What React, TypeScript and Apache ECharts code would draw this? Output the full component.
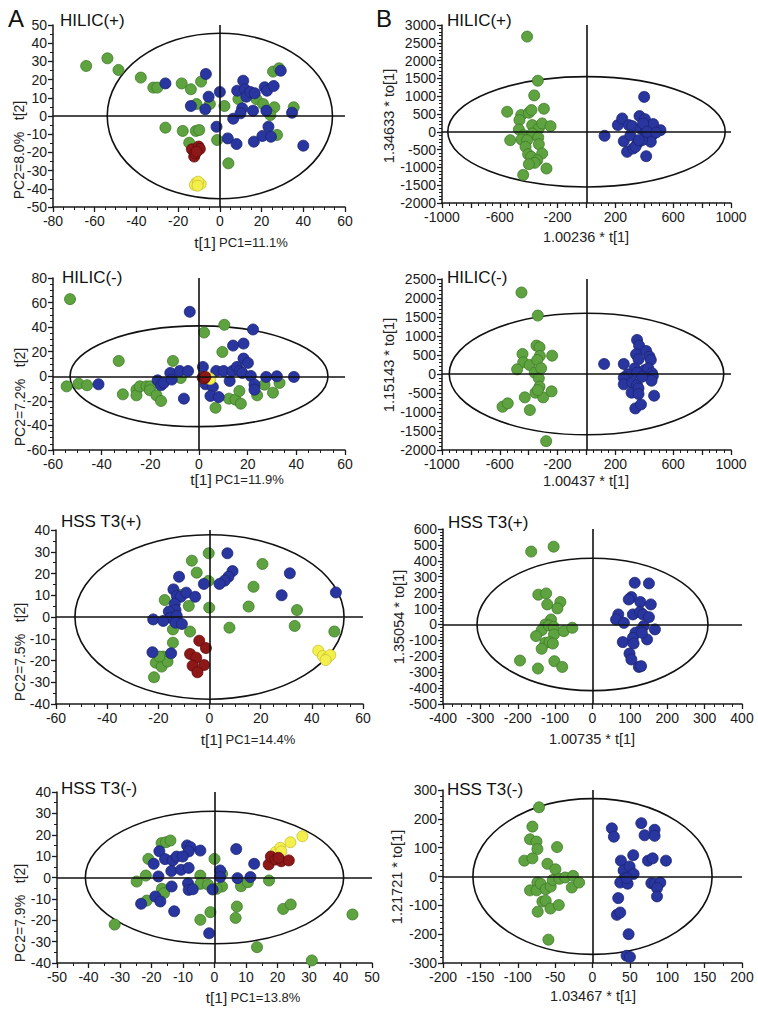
import React, { useEffect, useRef } from "react";
import * as echarts from "echarts";

const FONT = '"Liberation Sans", Arial, Helvetica, sans-serif';

// ---------- data ----------
const P1_GREEN = [[-64.1,27.5],[-53.9,31.7],[-48.6,25.3],[-37.9,21.1],[-31.9,15.6],[-30,15.6],[-18.3,17.9],[-13.9,14.7],[-9,18.9],[-11.2,6.6],[-4.8,6.6],[2.2,5.5],[-26.1,-6.4],[-17.8,-8.2],[-11.5,-8.2],[-9.9,-7.7],[-14.7,-14.7],[-1.3,-13.2],[4.1,-26],[8.9,9.3],[17.5,9.3],[20.7,6.6],[26.1,4.8],[24.2,0.5],[35.4,4.8],[25.5,24.4],[28.4,26.2],[27.4,-10.4]];
const P1_BLUE = [[-26.1,17.9],[-6.7,23.1],[-13.9,5.5],[-5.4,10.6],[-7,3.7],[0,13.2],[-1.6,-5.9],[3.8,-12.3],[6.4,-1.5],[8,-15.4],[8.3,13.9],[11.2,19.4],[12,14.7],[12.7,10.6],[14.6,13.2],[16.7,12.5],[10.7,4.2],[9.9,1.5],[15.9,2.9],[16.3,-14.1],[21.5,15.8],[22.6,13.9],[25.8,16.5],[22.3,2.9],[23.3,-5.9],[20.4,-11],[24.5,-11.4],[29.2,24.9],[34.6,1.8],[40,-16.3]];
const P1_RED = [[-13.4,-18.3],[-12.3,-22.3],[-10.2,-16.8],[-9.6,-18.1],[-11.8,-20.5],[-11.2,-19.6]];
const P1_YELLOW = [[-11.2,-36.6],[-9.2,-37.4],[-12,-37.9],[-10.4,-36.1],[-10.7,-38.3]];

const P2_GREEN = [[-411,2674],[-337,1435],[-362,1023],[-549,563],[-452,469],[-399,535],[-381,610],[-295,647],[-464,328],[-376,188],[-330,94],[-307,235],[-249,159],[-468,66],[-528,-235],[-434,-94],[-376,-47],[-334,-159],[-450,-216],[-411,-235],[-330,-347],[-422,-422],[-404,-629],[-383,-704],[-307,-610],[-341,-797],[-358,-872],[-399,-910],[-277,-1032],[-438,-1210]];
const P2_BLUE = [[125,-113],[217,188],[247,375],[293,188],[316,160],[367,441],[399,981],[404,356],[461,216],[512,47],[258,-263],[281,-563],[323,-469],[351,-328],[304,-94],[374,94],[408,0],[431,-141],[454,-94],[445,-281],[385,-234],[413,-685],[339,-422],[362,-234],[392,235],[419,0],[482,-19]];

const P3_GREEN = [[-53,62.8],[-33,12.5],[-54.4,-8.2],[-49.5,-6],[-46,-7.3],[-31.3,-14.7],[-25.7,-10.9],[-25.7,-15.5],[-24.3,-8.2],[-21.6,-8.2],[-20,-8.2],[-20.2,-11.4],[-17.5,-15.5],[-15.6,-20.1],[-10.7,12.5],[-7.5,-1.4],[2.1,35.6],[10.4,41.9],[9.6,19.8],[6.8,-25.6],[12.3,-18.2],[15,-19],[16.6,-12],[17.2,-22.3],[23.9,-15.5],[26.9,-6.8],[30.4,-13.3],[33.1,-5.4]];
const P3_BLUE = [[-3.8,52.5],[-41.3,-6.5],[-17,-3.3],[-15.6,-7.3],[-14.5,-5.4],[-11.8,2.7],[-11.2,-2.7],[-7.9,4.3],[-4.5,4.3],[-6.2,-18.2],[1.6,7.6],[2.7,-6.5],[5.7,-8.7],[4.7,-16],[8.1,-16.9],[7.1,4.3],[10.1,4.3],[12.6,-3.8],[13.7,4.3],[14,25],[15.6,7.6],[16.7,4.3],[17.8,2.7],[18.3,26.6],[18.3,14.4],[20.1,10.9],[21.3,0.3],[22.8,-6.8],[22.8,-10.9],[22.2,38.1],[27.6,-0.5],[32,0],[39,-0.5]];
const P3_RED = [[1.5,-1],[2.2,-1.8],[2.6,-0.6]];
const P3_YELLOW = [[4.2,-1.6],[3.6,-0.9],[4.6,-2.2]];

const P4_GREEN = [[-450,2144],[-337,1538],[-443,527],[-438,308],[-480,123],[-394,237],[-358,35],[-346,747],[-325,703],[-323,475],[-341,369],[-314,149],[-330,-114],[-325,-334],[-353,-492],[-300,-615],[-242,-457],[-427,-615],[-581,-861],[-545,-773],[-392,-949],[-279,-1767],[-238,483],[-337,-422]];
const P4_BLUE = [[122,264],[258,264],[350,897],[364,747],[343,519],[360,387],[413,606],[436,457],[445,369],[334,149],[286,-9],[258,-97],[258,-272],[316,-229],[312,-492],[350,-290],[360,-378],[360,-527],[338,-905],[377,-800],[404,105],[427,149],[454,18],[459,-53],[450,-176],[468,-571],[350,35],[385,-70]];

const P5_GREEN = [[-0.3,29.3],[-6.9,25.9],[-5,20.4],[-0.4,16.6],[20.7,24.4],[17.2,13.9],[15.3,4.8],[34.2,3.2],[33.3,-4.1],[48.8,-6.7],[7.8,-4.9],[-0.1,4.3],[-8.1,5.1],[-7.6,-6.7],[-17.5,7.8],[-14.3,-5.7],[-14.3,-11.8],[-21.7,-27.7],[-21,-21],[-18.1,-18.2],[-18.7,-22.8],[-16.4,-20.5],[-19.6,-18.2],[-11.5,10.1]];
const P5_BLUE = [[7,29.3],[9,21.1],[7.4,18.5],[5.9,16.7],[3.9,15.2],[-2.2,15.2],[-11.9,18.5],[-14.1,12.7],[-12.8,9.7],[-11.2,9.3],[-9.1,11.2],[-5.6,9.3],[-13.6,6],[-13.3,3.2],[-15.9,2.5],[-15.3,-0.3],[-12.8,0.5],[-13.3,-2.6],[-10.8,-3.2],[-22,-1.1],[-18.1,-1.8],[-22.3,-16.2],[-15,-16.7],[28.2,10],[31.4,20.1],[49.4,11.3]];
const P5_RED = [[-4,-10.9],[-1.4,-14.3],[-7.6,-17],[-5.2,-18.7],[-6.6,-22.4],[-2.1,-22.1],[-4.7,-25.4]];
const P5_YELLOW = [[42.5,-15.5],[44.3,-17.9],[45.8,-19],[47.2,-17.5],[45.4,-19.8]];

const P6_GREEN = [[-164,458],[-104,489],[-145,187],[-124,195],[-121,126],[-86,141],[-94,101],[-111,31],[-126,0],[-136,-36],[-117,-6],[-104,-15],[-103,-63],[-77,-42],[-54,-21],[-151,-73],[-126,-115],[-115,-111],[-106,-120],[-136,-153],[-194,-227],[-146,-277],[-102,-231],[-81,-267]];
const P6_BLUE = [[113,262],[151,258],[104,172],[97,157],[128,141],[156,126],[69,63],[63,31],[84,10],[108,63],[127,78],[135,63],[151,46],[137,-10],[167,-31],[127,-42],[115,-52],[108,-84],[110,-120],[81,-111],[146,-94],[99,-183],[104,-220],[124,-267],[130,-262],[132,-52]];

const P7_GREEN = [[-16.8,16.1],[-15.4,16.5],[-14,17.3],[-21,8.7],[-21.8,0.9],[-24.7,-1.9],[-21.5,-10.8],[-16.7,-5.3],[-16,-7.3],[-31.7,-22],[-4.5,0.9],[-4.5,-3],[-2.1,-3.3],[0,8.7],[-1.3,-16.2],[-4.5,-19.8],[2.4,1.7],[2.4,-4.2],[0.7,-5.3],[8.4,-4.1],[10.6,-2.2],[7.1,-13.6],[6.7,-18.9],[17.3,-1.4],[21.8,-14.7],[24.2,-12.6],[13.5,-32.6],[30.9,-38.8],[43.8,-17.3]];
const P7_BLUE = [[-17.5,12.3],[-19.3,6.4],[-15.7,8.6],[-13.3,8],[-12,9.8],[-8.7,15],[-7.6,14.2],[-8.2,12.2],[-10.1,9.8],[-4.5,12.6],[-13.7,3],[-10.6,3.6],[-8.2,4.5],[-17.8,0.5],[-8.4,-2.7],[-8.2,-5.8],[-6.9,-5.5],[-13.6,-4.2],[-18.8,-8.9],[-17.2,-11.2],[-23.3,-12.3],[-12.8,-15.8],[-1.7,-26.1],[-0.6,-5.6],[1.8,3.3],[1.8,0.2],[6.9,13.3],[7.3,-0.3],[11.4,0.2],[12.6,6.4]];
const P7_RED = [[17.2,6.1],[17.9,9.8],[19.4,8.4],[21.2,7.6],[23.6,8],[20.3,9.2]];
const P7_YELLOW = [[19.4,11.9],[20.9,13.9],[21.2,12.2],[24.1,16.5],[27.9,19.3]];

const P8_GREEN = [[-71.5,240],[-80.4,173],[-83.6,129],[-75,121],[-73.7,95],[-47.4,102],[-91.2,55],[-80.4,63],[-60.3,44],[-49.6,25],[-73.7,-21],[-83.6,-48],[-74.7,-48],[-69.3,-25],[-62.6,-44],[-67,-87],[-62.6,-84],[-73.3,-122],[-56.3,-111],[-45.1,-99],[-59,-219],[-55.9,-35],[-53.2,-12],[-44.2,-8],[-36.6,-3.5],[-25.9,2.3],[-27.7,-38],[-17.9,-21]];
const P8_BLUE = [[25.9,167],[28.6,138],[65.3,185],[69.7,143],[83.1,162],[83.1,141],[38,55],[54.5,74],[74.2,55],[80.5,63],[98.3,55],[41.6,21],[49.6,35],[55,9],[42.5,-7],[37.1,-21],[47,-25],[34.4,-75],[32.6,-133],[37.1,-125],[48.3,-200],[45.6,-275],[50.1,-279],[78.7,-23],[83.1,-25],[90.7,-21],[86.3,-40],[86.3,-69],[45.6,-6]];

// Hotelling ellipse radii [rx, ry] per panel
const ELLIPSES = [[54,45.5],[960,1550],[53,41],[950,1600],[52.6,37.8],[309,416],[41,31],[160,270]];

const TITLES = ["HILIC(+)","HILIC(+)","HILIC(-)","HILIC(-)","HSS T3(+)","HSS T3(+)","HSS T3(-)","HSS T3(-)"];
const X_NAMES = [["t[1]","PC1=11.1%"],"1.00236 * t[1]",["t[1]","PC1=11.9%"],"1.00437 * t[1]",["t[1]","PC1=14.4%"],"1.00735 * t[1]",["t[1]","PC1=13.8%"],"1.03467 * t[1]"];
const Y_NAMES = ["PC2=8.0%   t[2]","1.34633 * to[1]","PC2=7.2%   t[2]","1.15143 * to[1]","PC2=7.5%   t[2]","1.35054 * to[1]","PC2=7.9%   t[2]","1.21721 * to[1]"];

// axis ranges: [min, max, interval, minorSplit]
const X_AXES = [[-80,60,20,4],[-1000,1000,200,4],[-60,60,20,4],[-1000,1000,200,4],[-60,60,20,4],[-400,400,100,4],[-50,50,10,2],[-200,200,50,2]];
const Y_AXES = [[-50,50,10,2],[-2000,3000,500,5],[-60,80,20,4],[-2000,2500,500,5],[-40,40,10,2],[-500,600,100,5],[-40,40,10,2],[-300,300,100,5]];

const GREENS = [P1_GREEN,P2_GREEN,P3_GREEN,P4_GREEN,P5_GREEN,P6_GREEN,P7_GREEN,P8_GREEN];
const BLUES = [P1_BLUE,P2_BLUE,P3_BLUE,P4_BLUE,P5_BLUE,P6_BLUE,P7_BLUE,P8_BLUE];
const REDS = [P1_RED,[],P3_RED,[],P5_RED,[],P7_RED,[]];
const YELLOWS = [P1_YELLOW,[],P3_YELLOW,[],P5_YELLOW,[],P7_YELLOW,[]];

// ---------- layout ----------
const GRIDS = [
  { left: 53, top: 25, width: 292, height: 182 },
  { left: 442, top: 25, width: 289, height: 178 },
  { left: 53, top: 278, width: 292, height: 172 },
  { left: 442, top: 279, width: 289, height: 171 },
  { left: 56, top: 530, width: 307, height: 174 },
  { left: 443, top: 529, width: 299, height: 175 },
  { left: 57, top: 792, width: 315, height: 171 },
  { left: 443, top: 790, width: 299, height: 173 },
];
const TITLE_POS = [[60,20],[447,20],[62,277],[447,277],[61,521],[448,522],[61,788],[447,789]];
const XNAME_POS = [[241,242],[586,237],[237,479],[586,481],[248,739],[592,739],[253,997],[593,996]];
const YNAME_POS = [[19,150],[389,116],[20,397],[389,365],[20,652],[399,617],[20,913],[397,877]];

const COLORS = {
  green: { color: "#5ea33f", border: "#3e7a28" },
  blue: { color: "#2a36a0", border: "#1b2470" },
  red: { color: "#8e1717", border: "#5e0c0c" },
  yellow: { color: "#f3ef4d", border: "#c9c032" },
};

function axisCommon(isX: boolean, r: number[], idx: number) {
  const [min, max, interval, minor] = r;
  const isOplsX = isX && (idx === 1 || idx === 3);
  return {
    type: "value",
    gridIndex: idx,
    min,
    max,
    interval,
    position: isX ? "bottom" : "left",
    axisLine: { show: true, onZero: false, lineStyle: { color: "#1a1a1a", width: 1.5 } },
    axisTick: { show: true, length: 5, lineStyle: { color: "#1a1a1a", width: 1.3 } },
    minorTick: { show: true, splitNumber: minor, length: 3, lineStyle: { color: "#1a1a1a", width: 1 } },
    splitLine: { show: false },
    minorSplitLine: { show: false },
    axisLabel: {
      color: "#1a1a1a",
      fontSize: 14,
      fontFamily: FONT,
      margin: isX ? 7 : 6,
      showMinLabel: true,
      showMaxLabel: true,
      hideOverlap: false,
      formatter: isOplsX
        ? (v: number) => (((v - min) % 400 === 0) ? String(v) : "")
        : (v: number) => String(v),
    },
  };
}

function buildOption() {
  const grids: any[] = [];
  const xAxes: any[] = [];
  const yAxes: any[] = [];
  const series: any[] = [];
  const graphics: any[] = [];

  for (let i = 0; i < 8; i++) {
    const opls = i % 2 === 1;
    grids.push({ ...GRIDS[i], containLabel: false });
    xAxes.push(axisCommon(true, X_AXES[i], i));
    yAxes.push(axisCommon(false, Y_AXES[i], i));

    series.push({
      type: "custom",
      xAxisIndex: i,
      yAxisIndex: i,
      silent: true,
      clip: false,
      z: 1,
      encode: { x: 0, y: 1 },
      data: [[0, 0, ELLIPSES[i][0], ELLIPSES[i][1]]],
      renderItem: (params: any, api: any) => {
        const c = api.coord([api.value(0), api.value(1)]);
        const s = api.size([api.value(2), api.value(3)]);
        return {
          type: "ellipse",
          shape: { cx: c[0], cy: c[1], rx: s[0], ry: s[1] },
          style: { fill: "none", stroke: "#111", lineWidth: 1.6 },
        };
      },
      markLine: {
        silent: true,
        symbol: ["none", "none"],
        label: { show: false },
        animation: false,
        lineStyle: { color: "#111", width: 1.6, type: "solid" },
        data: [{ xAxis: 0 }, { yAxis: 0 }],
      },
    });

    const groups: [string, number[][]][] = [
      ["green", GREENS[i]],
      ["blue", BLUES[i]],
      ["yellow", YELLOWS[i]],
      ["red", REDS[i]],
    ];
    groups.forEach(([k, d]) => {
      if (!d.length) return;
      const c = (COLORS as any)[k];
      series.push({
        type: "scatter",
        xAxisIndex: i,
        yAxisIndex: i,
        data: d,
        symbolSize: 11,
        z: 3,
        silent: true,
        itemStyle: { color: c.color, borderColor: c.border, borderWidth: 0.8, opacity: 1 },
      });
    });

    // title
    graphics.push({
      type: "text",
      x: TITLE_POS[i][0],
      y: TITLE_POS[i][1],
      style: {
        text: TITLES[i],
        fill: "#111",
        font: `17px ${FONT}`,
        textAlign: "left",
        textVerticalAlign: "middle",
      },
    });

    // x name
    const xn = X_NAMES[i];
    if (Array.isArray(xn)) {
      graphics.push({
        type: "text",
        x: XNAME_POS[i][0],
        y: XNAME_POS[i][1],
        style: {
          text: `{a|${xn[0]}} {b|${xn[1]}}`,
          rich: {
            a: { fontSize: 15.5, fontFamily: FONT, fill: "#222" },
            b: { fontSize: 13, fontFamily: FONT, fill: "#222" },
          },
          fill: "#222",
          textAlign: "center",
          textVerticalAlign: "middle",
        },
      });
    } else {
      graphics.push({
        type: "text",
        x: XNAME_POS[i][0],
        y: XNAME_POS[i][1],
        style: {
          text: xn,
          fill: "#222",
          font: `14.5px ${FONT}`,
          textAlign: "center",
          textVerticalAlign: "middle",
        },
      });
    }

    // y name
    graphics.push({
      type: "text",
      x: YNAME_POS[i][0],
      y: YNAME_POS[i][1],
      rotation: Math.PI / 2,
      style: {
        text: Y_NAMES[i],
        fill: "#222",
        font: `${opls ? 14.5 : 14}px ${FONT}`,
        textAlign: "center",
        textVerticalAlign: "middle",
      },
    });
  }

  graphics.push({
    type: "text",
    x: 8,
    y: 18,
    style: { text: "A", fill: "#111", font: `24px ${FONT}`, textAlign: "left", textVerticalAlign: "middle" },
  });
  graphics.push({
    type: "text",
    x: 376,
    y: 18,
    style: { text: "B", fill: "#111", font: `24px ${FONT}`, textAlign: "left", textVerticalAlign: "middle" },
  });

  return {
    animation: false,
    backgroundColor: "#ffffff",
    grid: grids,
    xAxis: xAxes,
    yAxis: yAxes,
    series,
    graphic: graphics,
  };
}

export default function App() {
  const ref = useRef<HTMLDivElement>(null);
  useEffect(() => {
    if (!ref.current) return;
    const chart = echarts.init(ref.current, undefined, { renderer: "svg" });
    chart.setOption(buildOption() as any);
    return () => chart.dispose();
  }, []);
  return (
    <div
      ref={ref}
      style={{ position: "absolute", left: 0, top: 0, width: 758, height: 1010, background: "#fff" }}
    />
  );
}
